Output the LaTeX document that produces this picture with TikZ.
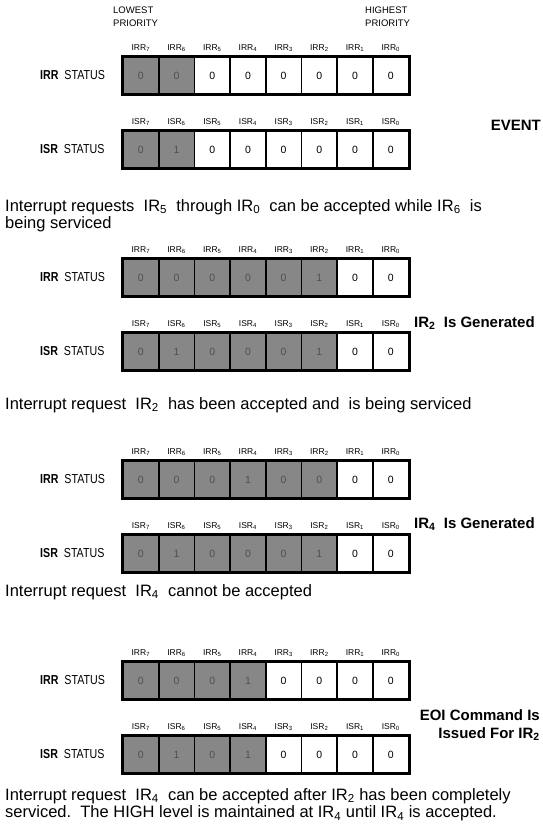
\documentclass[tikz,border=0pt]{standalone}
\usepackage{fontspec}
\setmainfont{Liberation Sans}
\newfontfamily\narrowfont{Liberation Sans}[FakeStretch=0.82]
\definecolor{shade}{RGB}{135,135,135}
\definecolor{shadetext}{RGB}{80,80,80}
\tikzset{
  cellbase/.style={draw=black, line width=1.6pt, minimum width=35.7pt, minimum height=37pt, inner sep=0pt, font=\fontsize{10.5}{10.5}\selectfont},
  shadedcell/.style={cellbase, fill=shade, text=shadetext},
  plaincell/.style={cellbase, fill=white},
  frame/.style={draw=black, line width=2.8pt},
  collabel/.style={font=\fontsize{8.5}{8.5}\selectfont, inner sep=0pt},
  status/.style={anchor=west, inner sep=0pt, font=\narrowfont\fontsize{13}{13}\selectfont},
  body/.style={anchor=north west, align=left, inner sep=0pt, font=\fontsize{16.5}{17.5}\selectfont},
  event/.style={inner sep=0pt, font=\bfseries\fontsize{15}{18}\selectfont},
  prio/.style={inner sep=0pt, align=left, font=\fontsize{9.5}{13}\selectfont},
}
\newcommand{\regrow}[5]{%
  \foreach \v [count=\i from 0] in {#5} {%
    \pgfmathtruncatemacro{\bit}{7-\i}%
    \ifnum\i<#4\relax \def\cellsty{shadedcell}\else\def\cellsty{plaincell}\fi
    \node[\cellsty] (#1c\i) at ({123+35.7*(\i+0.5)},{#2+18.5}) {\v};
    \node[collabel] (#1l\i) at ({123+35.7*(\i+0.5)},{#2-9}) {#3\textsubscript{\bit}};
  }%
  \draw[frame] (#1c0.north west) rectangle (#1c7.south east);
  \node[status] (#1s) at (40,{#2+18.5}) {\textbf{#3}\ \ STATUS};
}
\begin{document}
\begin{tikzpicture}[x=1pt,y=-1pt]
\useasboundingbox (0,0) rectangle (542,830);
\fill[white] (0,0) rectangle (542,830);
\node[prio, anchor=north west] (low) at (113,7) {LOWEST\\PRIORITY};
\node[prio, anchor=north west] (high) at (365,7) {HIGHEST\\PRIORITY};
\regrow{aR}{57}{IRR}{2}{0,0,0,0,0,0,0,0}
\regrow{aS}{131}{ISR}{2}{0,1,0,0,0,0,0,0}
\regrow{bR}{259}{IRR}{6}{0,0,0,0,0,1,0,0}
\regrow{bS}{333}{ISR}{6}{0,1,0,0,0,1,0,0}
\regrow{cR}{461}{IRR}{6}{0,0,0,1,0,0,0,0}
\regrow{cS}{535}{ISR}{6}{0,1,0,0,0,1,0,0}
\regrow{dR}{662}{IRR}{4}{0,0,0,1,0,0,0,0}
\regrow{dS}{736}{ISR}{4}{0,1,0,1,0,0,0,0}
\node[event, anchor=east] (ev) at (541,125) {EVENT};
\node[event, anchor=west] (g2) at (414,323) {IR\textsubscript{2}\ \ Is Generated};
\node[event, anchor=west] (g4) at (414,524) {IR\textsubscript{4}\ \ Is Generated};
\node[event, anchor=north east, align=right] (eoi) at (540,709) {EOI Command Is\\Issued For IR\textsubscript{2}};
\node[body] (t1) at (5,199) {Interrupt requests\ \ IR\textsubscript{5}\ \ through IR\textsubscript{0}\ \ can be accepted while IR\textsubscript{6}\ \ is\\being serviced};
\node[body] (t2) at (5,397) {Interrupt request\ \ IR\textsubscript{2}\ \ has been accepted and\ \ is being serviced};
\node[body] (t3) at (5,584) {Interrupt request\ \ IR\textsubscript{4}\ \ cannot be accepted};
\node[body] (t4) at (5,788) {Interrupt request\ \ IR\textsubscript{4}\ \ can be accepted after IR\textsubscript{2} has been completely\\serviced.\ \ The HIGH level is maintained at IR\textsubscript{4} until IR\textsubscript{4} is accepted.};
\end{tikzpicture}
\end{document}
